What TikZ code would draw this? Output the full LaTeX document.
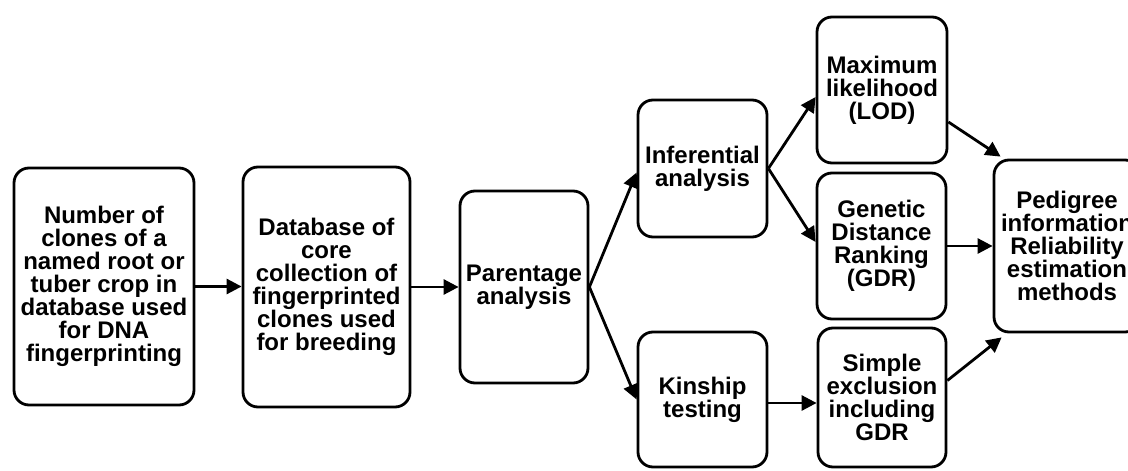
\documentclass[tikz,border=0pt]{standalone}
\usepackage{fontspec}
\setmainfont{Liberation Sans}
\usetikzlibrary{arrows.meta}
\begin{document}
\begin{tikzpicture}[x=1pt,y=-1pt,
  box/.style={draw, line width=2.8pt, rounded corners=15pt, align=center,
    font=\bfseries\fontsize{24pt}{23pt}\selectfont, inner sep=0pt},
  arr/.style={line width=2.8pt, -{Triangle[length=15pt,width=15pt]}}]
\useasboundingbox (0,0) rectangle (1128,471);
\begin{scope}
\clip (0,0) rectangle (1128,471);
\node[box, minimum width=180pt, minimum height=237pt] (b1) at (104,286.5)
  {Number of\\clones of a\\named root or\\tuber crop in\\database used\\for DNA\\fingerprinting};
\node[box, minimum width=167pt, minimum height=240pt] (b2) at (326.5,287)
  {Database of\\core\\collection of\\fingerprinted\\clones used\\for breeding};
\node[box, minimum width=128pt, minimum height=192pt] (b3) at (524,287)
  {Parentage\\analysis};
\node[box, minimum width=129pt, minimum height=137pt] (b4) at (702.5,168.5)
  {Inferential\\analysis};
\node[box, minimum width=129pt, minimum height=135pt] (b5) at (702.5,399.5)
  {Kinship\\testing};
\node[box, minimum width=130pt, minimum height=146pt] (b6) at (882,90)
  {Maximum\\likelihood\\(LOD)};
\node[box, minimum width=129pt, minimum height=146pt] (b7) at (881.5,246)
  {Genetic\\Distance\\Ranking\\(GDR)};
\node[box, minimum width=128pt, minimum height=139pt] (b8) at (882,397.5)
  {Simple\\exclusion\\including\\GDR};
\node[box, minimum width=146pt, minimum height=172pt] (b9) at (1067,246)
  {Pedigree\\information\\Reliability\\estimation\\methods};
\end{scope}
\draw[arr] (b1.east) -- (b1.east -| b2.west);
\draw[arr] (b2.east) -- (b2.east -| b3.west);
\draw[arr] (b3.east) -- ([yshift=-4pt]b4.west);
\draw[arr] (b3.east) -- (b5.west);
\draw[arr] (b4.east) -- ([yshift=-7pt]b6.west);
\draw[arr] (b4.east) -- ([yshift=4pt]b7.west);
\draw[arr] ([yshift=-32pt]b6.east) -- ([xshift=8pt,yshift=2pt]b9.north west);
\draw[arr] (b7.east) -- (b7.east -| b9.west);
\draw[arr] ([yshift=17pt]b8.east) -- ([xshift=9pt,yshift=-4pt]b9.south west);
\draw[arr] ([yshift=-3.5pt]b5.east) -- ([yshift=-3.5pt]b5.east -| b8.west);
\end{tikzpicture}
\end{document}
